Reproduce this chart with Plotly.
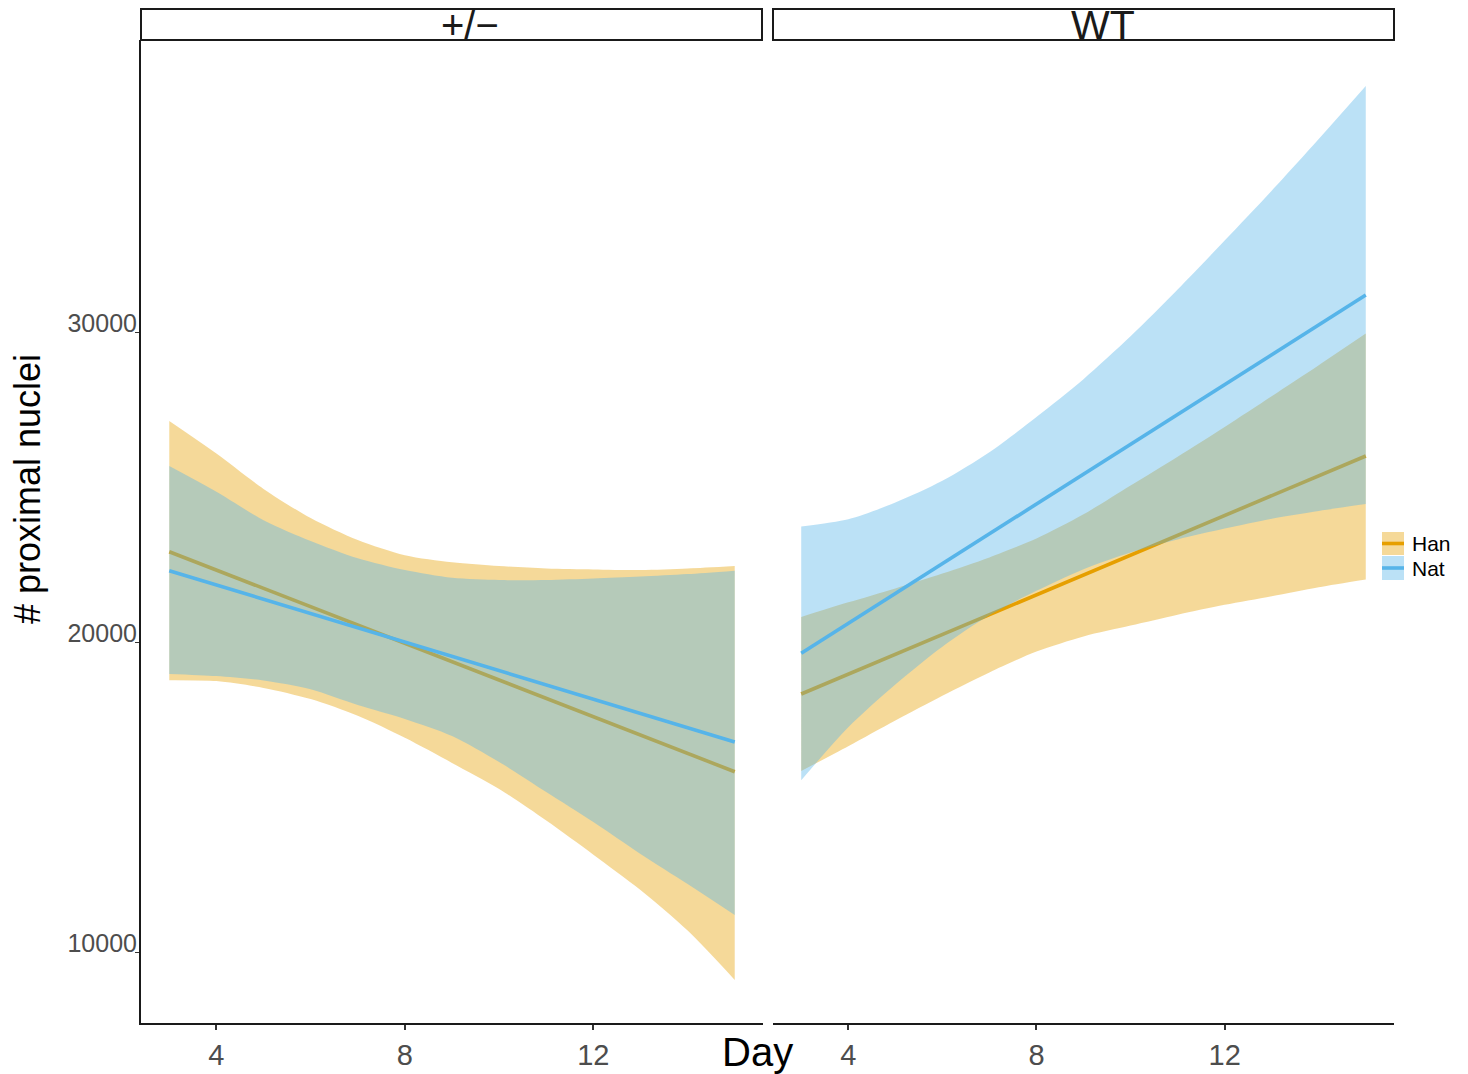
import plotly.graph_objects as go

# ---------------- data ----------------
days = [3, 4, 5, 6, 7, 8, 9, 10, 11, 12, 13, 14, 15]
fit_days = [3, 15]

# panel "+/−"
han_pm_fit = [22913, 15816]
nat_pm_fit = [22300, 16774]
han_pm_upper = [27130, 26080, 24940, 24000, 23290, 22800, 22570, 22450, 22370, 22340, 22320, 22370, 22450]
han_pm_lower = [18770, 18740, 18520, 18160, 17620, 16910, 16100, 15260, 14240, 13140, 12000, 10690, 9100]
nat_pm_upper = [25680, 24850, 23930, 23260, 22700, 22320, 22070, 22000, 22000, 22050, 22110, 22190, 22300]
nat_pm_lower = [18970, 18900, 18760, 18480, 17970, 17520, 16970, 16130, 15160, 14190, 13160, 12190, 11190]

# panel "WT"
han_wt_fit = [18323, 26000]
nat_wt_fit = [19635, 31194]
han_wt_upper = [20810, 21280, 21730, 22210, 22730, 23340, 24120, 25050, 25980, 26940, 27930, 28930, 29950]
han_wt_lower = [15840, 16640, 17470, 18270, 19020, 19690, 20180, 20530, 20880, 21200, 21480, 21770, 22020]
nat_wt_upper = [23730, 23960, 24500, 25200, 26120, 27260, 28480, 29860, 31370, 32950, 34560, 36230, 37940]
nat_wt_lower = [15540, 17250, 18630, 19850, 20860, 21650, 22350, 22890, 23310, 23660, 23980, 24230, 24450]

panels = ["+/−", "WT"]
groups = ["Han", "Nat"]
x_ticks = [4, 8, 12]
y_ticks = [10000, 20000, 30000]

# ---------------- styling ----------------
W, H = 1468, 1074
ML, MT = 141, 40
MR = W - 1394
MB = H - 1023
PW, PH = W - ML - MR, H - MT - MB
FONT = "Liberation Sans, Arial, Helvetica, sans-serif"
COL = {"Han": "#E69F00", "Nat": "#56B4E9"}
FILL = {"Han": "rgba(230,159,0,0.4)", "Nat": "rgba(86,180,233,0.4)"}


def px_x(xp):
    return (xp - ML) / PW


def px_y(yp):
    return (H - MB - yp) / PH


data = {
    ("+/−", "Han"): (han_pm_fit, han_pm_upper, han_pm_lower),
    ("+/−", "Nat"): (nat_pm_fit, nat_pm_upper, nat_pm_lower),
    ("WT", "Han"): (han_wt_fit, han_wt_upper, han_wt_lower),
    ("WT", "Nat"): (nat_wt_fit, nat_wt_upper, nat_wt_lower),
}

fig = go.Figure()
for i, panel in enumerate(panels):
    xa = "x" if i == 0 else "x2"
    ya = "y" if i == 0 else "y2"
    for g in groups:
        fit, up, lo = data[(panel, g)]
        fig.add_trace(go.Scatter(
            x=days, y=lo, mode="lines", line=dict(width=0, shape="spline", smoothing=0.8),
            hoverinfo="skip", showlegend=False, xaxis=xa, yaxis=ya))
        fig.add_trace(go.Scatter(
            x=days, y=up, mode="lines", fill="tonexty", fillcolor=FILL[g],
            line=dict(width=0, shape="spline", smoothing=0.8),
            hoverinfo="skip", showlegend=False, xaxis=xa, yaxis=ya))
        fig.add_trace(go.Scatter(
            x=fit_days, y=fit, mode="lines",
            line=dict(color=COL[g], width=3.6),
            showlegend=False, xaxis=xa, yaxis=ya, name=g))

x_range = [2.4, 15.6]
y_range = [7710, 39420]

xax = dict(range=x_range, tickvals=x_ticks, showgrid=False, zeroline=False,
           showline=True, linecolor="#1a1a1a", linewidth=2,
           ticks="outside", ticklen=5, tickwidth=1.5, tickcolor="#333333",
           ticklabelstandoff=0, automargin=False,
           tickfont=dict(family=FONT, size=29, color="#4D4D4D"),
           fixedrange=True)

fig.update_layout(
    width=W, height=H,
    margin=dict(l=ML, r=MR, t=MT, b=MB, autoexpand=False),
    paper_bgcolor="white", plot_bgcolor="white",
    showlegend=False,
    xaxis=dict(xax, domain=[0, px_x(763)], anchor="y"),
    xaxis2=dict(xax, domain=[px_x(773), 1], anchor="y2"),
    yaxis=dict(range=y_range, tickvals=y_ticks, ticktext=[str(v) for v in y_ticks],
               showgrid=False, zeroline=False, showline=True,
               linecolor="#1a1a1a", linewidth=2, ticks="outside", ticklen=4,
               tickwidth=1, tickcolor="#333333", ticklabelshift=-9,
               ticklabelstandoff=-7, automargin=False,
               tickfont=dict(family=FONT, size=25, color="#4D4D4D"),
               anchor="x", fixedrange=True),
    yaxis2=dict(range=y_range, matches="y", showgrid=False, zeroline=False,
                showline=False, showticklabels=False, ticks="", automargin=False,
                anchor="x2", fixedrange=True),
)

shapes = []
annotations = []
# facet strips
strip_x = [(141, 762), (773, 1394)]
strip_text_x = [470, 1103]
strip_font = [40, 41]
for (x0, x1), tx, fs, label in zip(strip_x, strip_text_x, strip_font, panels):
    shapes.append(dict(type="rect", xref="paper", yref="paper",
                       x0=px_x(x0), x1=px_x(x1), y0=px_y(40), y1=px_y(9),
                       line=dict(color="#1a1a1a", width=2), fillcolor="white"))
    annotations.append(dict(text=label, xref="paper", yref="paper",
                            x=px_x(tx), y=px_y(25), xanchor="center", yanchor="middle",
                            borderpad=0, showarrow=False,
                            font=dict(family=FONT, size=fs, color="#1a1a1a")))

# axis titles
annotations.append(dict(text="# proximal nuclei", xref="paper", yref="paper",
                        x=px_x(27), y=px_y(489), xanchor="center", yanchor="middle",
                        textangle=-90, showarrow=False,
                        font=dict(family=FONT, size=36, color="black")))
annotations.append(dict(text="Day", xref="paper", yref="paper",
                        x=px_x(757), y=px_y(1052), xanchor="center", yanchor="middle",
                        borderpad=0, showarrow=False,
                        font=dict(family=FONT, size=40, color="black")))

# legend (keys drawn like ggplot: shaded box with line)
leg_rows = [("Han", 532, 555, 543.5), ("Nat", 556, 580, 568)]
for g, y0, y1, ym in leg_rows:
    shapes.append(dict(type="rect", xref="paper", yref="paper",
                       x0=px_x(1382), x1=px_x(1404), y0=px_y(y1), y1=px_y(y0),
                       line=dict(width=0), fillcolor=FILL[g]))
    shapes.append(dict(type="line", xref="paper", yref="paper",
                       x0=px_x(1382), x1=px_x(1404), y0=px_y(ym), y1=px_y(ym),
                       line=dict(color=COL[g], width=3.6)))
    annotations.append(dict(text=g, xref="paper", yref="paper",
                            x=px_x(1410), y=px_y(ym), xanchor="left", yanchor="middle",
                            showarrow=False, font=dict(family=FONT, size=21, color="black")))

fig.update_layout(shapes=shapes, annotations=annotations)
fig.write_html(
    "out.html",
    config={"displayModeBar": False},
    post_script="document.body.style.margin='0';document.body.style.overflow='hidden';",
)
